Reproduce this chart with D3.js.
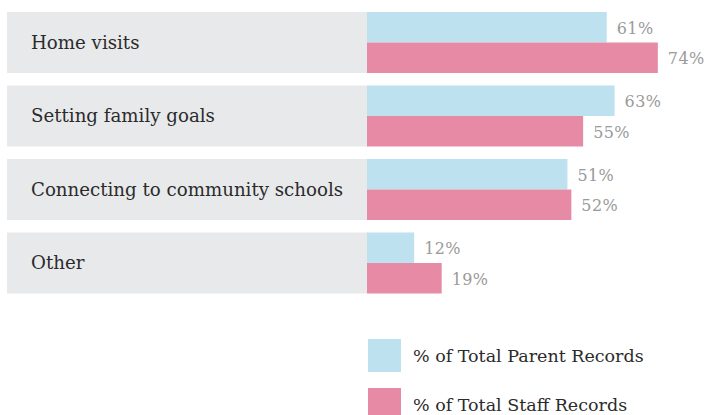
<!DOCTYPE html>
<html>
<head>
<meta charset="utf-8">
<script src="https://cdn.jsdelivr.net/npm/d3@7"></script>
<style>
  html, body { margin: 0; padding: 0; background: #fff; }
  svg { display: block; }
  text { font-family: "DejaVu Serif", serif; }
</style>
</head>
<body>
<div id="chart"></div>
<script>
// Activity categories and the share of records mentioning each
const categories = ["Home visits", "Setting family goals", "Connecting to community schools", "Other"];
const parentPct = [61, 63, 51, 12];
const staffPct = [74, 55, 52, 19];
const seriesNames = ["% of Total Parent Records", "% of Total Staff Records"];
const seriesColors = ["#bde1ef", "#e78aa5"];

const width = 706, height = 415;
const svg = d3.select("#chart").append("svg")
  .attr("width", width).attr("height", height);

const labelLeft = 7, barLeft = 367;

const y = d3.scaleBand()
  .domain(categories)
  .range([12, 293.5])
  .paddingInner(0.17)
  .paddingOuter(0);

const x = d3.scaleLinear().domain([0, 100]).range([barLeft, barLeft + 393]);

const rows = categories.map((c, i) => ({ cat: c, values: [parentPct[i], staffPct[i]] }));

const g = svg.selectAll("g.row").data(rows).join("g").attr("class", "row")
  .attr("transform", d => `translate(0,${y(d.cat)})`);

// grey label panel
g.append("rect")
  .attr("x", labelLeft).attr("y", 0)
  .attr("width", barLeft - labelLeft).attr("height", y.bandwidth())
  .attr("fill", "#e8e9eb");

g.append("text")
  .attr("x", 31).attr("y", y.bandwidth() / 2)
  .attr("dy", "0.35em")
  .attr("font-size", 18.2)
  .attr("fill", "#2b2b2b")
  .text(d => d.cat);

const half = y.bandwidth() / 2;

g.selectAll("rect.bar").data(d => d.values).join("rect").attr("class", "bar")
  .attr("x", x(0))
  .attr("y", (d, j) => j * half)
  .attr("width", d => x(d) - x(0))
  .attr("height", half)
  .attr("fill", (d, j) => seriesColors[j]);

g.selectAll("text.val").data(d => d.values).join("text").attr("class", "val")
  .attr("x", d => x(d) + 10)
  .attr("y", (d, j) => j * half + half / 2 + 1)
  .attr("dy", "0.35em")
  .attr("font-size", 16)
  .attr("letter-spacing", 0.4)
  .attr("fill", "#9a9a9a")
  .text(d => d + "%");

// legend
const legend = svg.selectAll("g.legend").data(seriesNames).join("g").attr("class", "legend")
  .attr("transform", (d, i) => `translate(368,${339 + i * 49})`);

legend.append("rect")
  .attr("width", 33).attr("height", 33)
  .attr("fill", (d, i) => seriesColors[i]);

legend.append("text")
  .attr("x", 45).attr("y", 17)
  .attr("dy", "0.35em")
  .attr("font-size", 17.5)
  .attr("fill", "#2b2b2b")
  .text(d => d);
</script>
</body>
</html>
